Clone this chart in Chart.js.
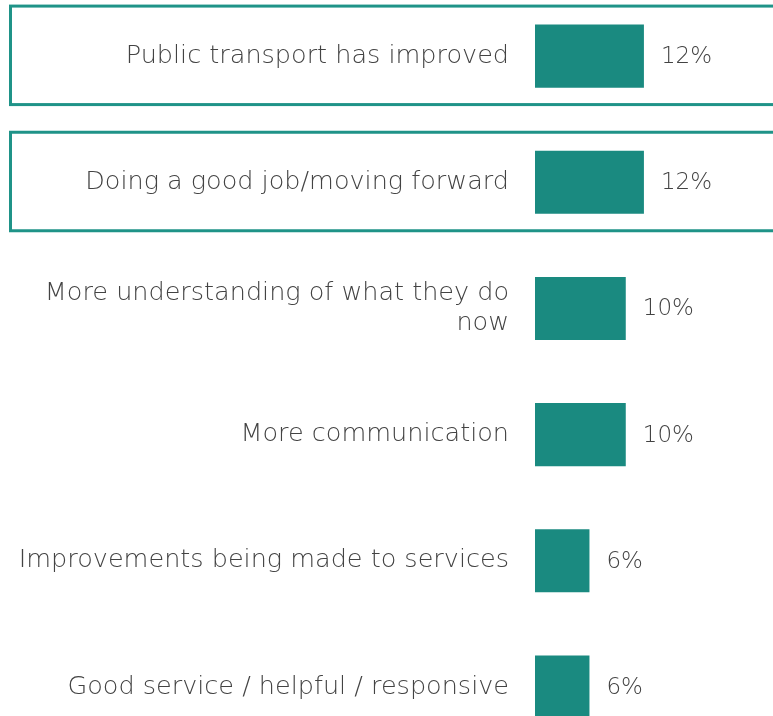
<!DOCTYPE html>
<html>
<head>
<meta charset="utf-8">
<script src="https://cdn.jsdelivr.net/npm/chart.js@4"></script>
<style>
  html, body { margin: 0; padding: 0; background: #fff; }
  #wrap { position: relative; width: 773px; height: 716px; overflow: hidden; }
  #chart { position: absolute; left: 0; top: -7px; }
</style>
</head>
<body>
<div id="wrap">
  <canvas id="chart" width="773" height="757"></canvas>
</div>
<script>
const categories = [
  "Public transport has improved",
  "Doing a good job/moving forward",
  ["More understanding of what they do", "now"],
  "More communication",
  "Improvements being made to services",
  "Good service / helpful / responsive"
];
const percentValues = [12, 12, 10, 10, 6, 6];
const highlightedRows = [0, 1];

const TEAL = "#1a8a80";
const BOX_TEAL = "#1f9388";
const TEXT_GREY = "#434343";
const FONT = "'DejaVu Sans', sans-serif";

// value labels to the right of each bar
const valueLabels = {
  id: "valueLabels",
  afterDatasetsDraw(chart) {
    const ctx = chart.ctx;
    const meta = chart.getDatasetMeta(0);
    ctx.save();
    ctx.font = "300 23px " + FONT;
    ctx.fillStyle = TEXT_GREY;
    ctx.textAlign = "left";
    ctx.textBaseline = "middle";
    meta.data.forEach((bar, i) => {
      ctx.fillText(percentValues[i] + "%", bar.x + 17, bar.y + 1);
    });
    ctx.restore();
  }
};

// outlined boxes around the top rows
const rowBoxes = {
  id: "rowBoxes",
  afterDraw(chart) {
    const ctx = chart.ctx;
    const yScale = chart.scales.y;
    ctx.save();
    ctx.strokeStyle = BOX_TEAL;
    ctx.lineWidth = 3;
    highlightedRows.forEach(i => {
      const cy = yScale.getPixelForValue(i);
      const top = cy - 50;
      const bottom = cy + 48.5;
      ctx.strokeRect(10.5, top, chart.width + 20, bottom - top);
    });
    ctx.restore();
  }
};

new Chart(document.getElementById("chart"), {
  type: "bar",
  data: {
    labels: categories,
    datasets: [{
      data: percentValues,
      backgroundColor: TEAL,
      borderWidth: 0,
      categoryPercentage: 1,
      barPercentage: 0.5
    }]
  },
  options: {
    indexAxis: "y",
    responsive: false,
    animation: false,
    layout: { padding: { left: 0, right: 2, top: 0, bottom: 0 } },
    plugins: {
      legend: { display: false },
      tooltip: { enabled: false }
    },
    scales: {
      x: {
        display: false,
        min: 0,
        max: 26
      },
      y: {
        afterFit(scale) {
          scale.width = 535;
          scale.paddingTop = 0;
          scale.paddingBottom = 0;
        },
        grid: { display: false, drawTicks: false },
        border: { display: false },
        ticks: {
          padding: 26,
          color: TEXT_GREY,
          font: { family: FONT, size: 25.5, weight: 300, lineHeight: 1.2 }
        }
      }
    }
  },
  plugins: [valueLabels, rowBoxes]
});
</script>
</body>
</html>
